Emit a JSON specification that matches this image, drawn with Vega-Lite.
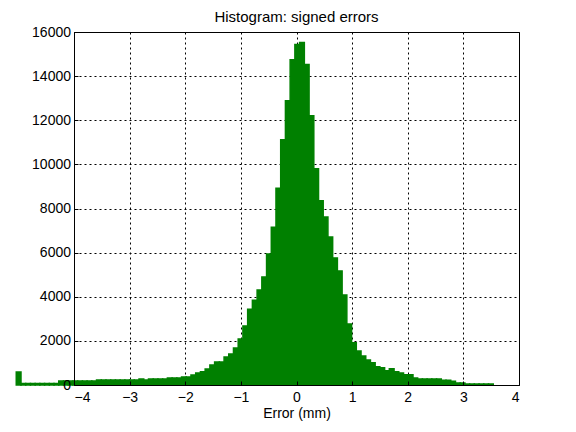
{
  "$schema": "https://vega.github.io/schema/vega-lite/v6.json",
  "width": 445,
  "height": 353,
  "autosize": "none",
  "padding": {"left": 74, "right": 57, "top": 32, "bottom": 47},
  "background": "white",
  "title": {"text": "Histogram: signed errors", "font": "Liberation Sans", "fontSize": 15, "fontWeight": "normal", "color": "black", "offset": 0},
  "config": {
    "view": {"stroke": "black", "strokeWidth": 1},
    "axis": {"labelFont": "Liberation Sans", "titleFont": "Liberation Sans", "labelFontSize": 14, "titleFontSize": 14, "titleFontWeight": "normal", "labelColor": "black", "titleColor": "black", "domainColor": "black", "tickColor": "black", "gridColor": "black", "gridOpacity": 1, "gridDash": [2, 3], "gridWidth": 1}
  },
  "data": {"values": [
    {"lo": -5.038, "hi": -4.953, "n": 590},
    {"lo": -4.953, "hi": -4.868, "n": 70},
    {"lo": -4.868, "hi": -4.783, "n": 70},
    {"lo": -4.783, "hi": -4.698, "n": 70},
    {"lo": -4.698, "hi": -4.614, "n": 70},
    {"lo": -4.614, "hi": -4.529, "n": 70},
    {"lo": -4.529, "hi": -4.444, "n": 70},
    {"lo": -4.444, "hi": -4.359, "n": 70},
    {"lo": -4.359, "hi": -4.274, "n": 70},
    {"lo": -4.274, "hi": -4.189, "n": 180},
    {"lo": -4.189, "hi": -4.104, "n": 180},
    {"lo": -4.104, "hi": -4.019, "n": 180},
    {"lo": -4.019, "hi": -3.934, "n": 180},
    {"lo": -3.934, "hi": -3.849, "n": 180},
    {"lo": -3.849, "hi": -3.765, "n": 180},
    {"lo": -3.765, "hi": -3.680, "n": 180},
    {"lo": -3.680, "hi": -3.595, "n": 180},
    {"lo": -3.595, "hi": -3.510, "n": 227},
    {"lo": -3.510, "hi": -3.425, "n": 227},
    {"lo": -3.425, "hi": -3.340, "n": 227},
    {"lo": -3.340, "hi": -3.255, "n": 227},
    {"lo": -3.255, "hi": -3.170, "n": 227},
    {"lo": -3.170, "hi": -3.085, "n": 227},
    {"lo": -3.085, "hi": -3.000, "n": 227},
    {"lo": -3.000, "hi": -2.916, "n": 227},
    {"lo": -2.916, "hi": -2.831, "n": 227},
    {"lo": -2.831, "hi": -2.746, "n": 270},
    {"lo": -2.746, "hi": -2.661, "n": 227},
    {"lo": -2.661, "hi": -2.576, "n": 270},
    {"lo": -2.576, "hi": -2.491, "n": 270},
    {"lo": -2.491, "hi": -2.406, "n": 270},
    {"lo": -2.406, "hi": -2.321, "n": 270},
    {"lo": -2.321, "hi": -2.236, "n": 318},
    {"lo": -2.236, "hi": -2.151, "n": 318},
    {"lo": -2.151, "hi": -2.067, "n": 318},
    {"lo": -2.067, "hi": -1.982, "n": 363},
    {"lo": -1.982, "hi": -1.897, "n": 363},
    {"lo": -1.897, "hi": -1.812, "n": 454},
    {"lo": -1.812, "hi": -1.727, "n": 544},
    {"lo": -1.727, "hi": -1.642, "n": 603},
    {"lo": -1.642, "hi": -1.557, "n": 726},
    {"lo": -1.557, "hi": -1.472, "n": 907},
    {"lo": -1.472, "hi": -1.387, "n": 1043},
    {"lo": -1.387, "hi": -1.302, "n": 1043},
    {"lo": -1.302, "hi": -1.218, "n": 1270},
    {"lo": -1.218, "hi": -1.133, "n": 1406},
    {"lo": -1.133, "hi": -1.048, "n": 1678},
    {"lo": -1.048, "hi": -0.963, "n": 2087},
    {"lo": -0.963, "hi": -0.878, "n": 2676},
    {"lo": -0.878, "hi": -0.793, "n": 3434},
    {"lo": -0.793, "hi": -0.708, "n": 3842},
    {"lo": -0.708, "hi": -0.623, "n": 4309},
    {"lo": -0.623, "hi": -0.538, "n": 4899},
    {"lo": -0.538, "hi": -0.453, "n": 5942},
    {"lo": -0.453, "hi": -0.369, "n": 7153},
    {"lo": -0.369, "hi": -0.284, "n": 8922},
    {"lo": -0.284, "hi": -0.199, "n": 11113},
    {"lo": -0.199, "hi": -0.114, "n": 12882},
    {"lo": -0.114, "hi": -0.029, "n": 14742},
    {"lo": -0.029, "hi": 0.056, "n": 15436},
    {"lo": 0.056, "hi": 0.141, "n": 15527},
    {"lo": 0.141, "hi": 0.226, "n": 14529},
    {"lo": 0.226, "hi": 0.311, "n": 12202},
    {"lo": 0.311, "hi": 0.396, "n": 9798},
    {"lo": 0.396, "hi": 0.480, "n": 8346},
    {"lo": 0.480, "hi": 0.565, "n": 7620},
    {"lo": 0.565, "hi": 0.650, "n": 6713},
    {"lo": 0.650, "hi": 0.735, "n": 5761},
    {"lo": 0.735, "hi": 0.820, "n": 5171},
    {"lo": 0.820, "hi": 0.905, "n": 4082},
    {"lo": 0.905, "hi": 0.990, "n": 2767},
    {"lo": 0.990, "hi": 1.075, "n": 1919},
    {"lo": 1.075, "hi": 1.160, "n": 1542},
    {"lo": 1.160, "hi": 1.245, "n": 1315},
    {"lo": 1.245, "hi": 1.329, "n": 1134},
    {"lo": 1.329, "hi": 1.414, "n": 1012},
    {"lo": 1.414, "hi": 1.499, "n": 830},
    {"lo": 1.499, "hi": 1.584, "n": 785},
    {"lo": 1.584, "hi": 1.669, "n": 649},
    {"lo": 1.669, "hi": 1.754, "n": 739},
    {"lo": 1.754, "hi": 1.839, "n": 603},
    {"lo": 1.839, "hi": 1.924, "n": 544},
    {"lo": 1.924, "hi": 2.009, "n": 467},
    {"lo": 2.009, "hi": 2.094, "n": 467},
    {"lo": 2.094, "hi": 2.178, "n": 318},
    {"lo": 2.178, "hi": 2.263, "n": 272},
    {"lo": 2.263, "hi": 2.348, "n": 272},
    {"lo": 2.348, "hi": 2.433, "n": 272},
    {"lo": 2.433, "hi": 2.518, "n": 272},
    {"lo": 2.518, "hi": 2.603, "n": 272},
    {"lo": 2.603, "hi": 2.688, "n": 213},
    {"lo": 2.688, "hi": 2.773, "n": 213},
    {"lo": 2.773, "hi": 2.858, "n": 168},
    {"lo": 2.858, "hi": 2.943, "n": 91},
    {"lo": 2.943, "hi": 3.027, "n": 91},
    {"lo": 3.027, "hi": 3.112, "n": 45},
    {"lo": 3.112, "hi": 3.197, "n": 45},
    {"lo": 3.197, "hi": 3.282, "n": 45},
    {"lo": 3.282, "hi": 3.367, "n": 45},
    {"lo": 3.367, "hi": 3.452, "n": 45},
    {"lo": 3.452, "hi": 3.537, "n": 45}
  ]},
  "resolve": {"axis": {"x": "independent", "y": "independent"}},
  "layer": [
    {
      "mark": {"type": "rect", "fill": "#008000", "stroke": "#008000", "strokeWidth": 1.5, "strokeJoin": "miter", "opacity": 1, "fillOpacity": 1, "strokeOpacity": 1, "clip": false},
      "encoding": {
        "x": {"field": "lo", "type": "quantitative", "scale": {"domain": [-4, 4], "nice": false, "zero": false},
              "axis": {"orient": "bottom", "values": [-4, -3, -2, -1, 0, 1, 2, 3, 4], "grid": true, "domain": false, "ticks": false, "labels": false, "title": null, "zindex": 0, "maxExtent": 0, "minExtent": 0}},
        "x2": {"field": "hi"},
        "y": {"field": "n", "type": "quantitative", "scale": {"domain": [0, 16000], "nice": false},
              "axis": {"orient": "left", "values": [0, 2000, 4000, 6000, 8000, 10000, 12000, 14000, 16000], "grid": true, "domain": false, "ticks": false, "labels": false, "title": null, "zindex": 0, "maxExtent": 0, "minExtent": 0}},
        "y2": {"datum": 0}
      }
    },
    {
      "mark": {"type": "rect", "opacity": 0},
      "encoding": {
        "x": {"field": "lo", "type": "quantitative",
              "axis": {"orient": "bottom", "values": [-4, -3, -2, -1, 0, 1, 2, 3, 4], "grid": false, "domain": true, "ticks": true, "tickSize": -4, "labelPadding": 9, "title": "Error (mm)", "titlePadding": 2, "zindex": 2}},
        "x2": {"field": "hi"},
        "y": {"field": "n", "type": "quantitative",
              "axis": {"orient": "left", "values": [0, 2000, 4000, 6000, 8000, 10000, 12000, 14000, 16000], "format": "d", "grid": false, "domain": true, "ticks": true, "tickSize": -4, "labelPadding": 7.5, "title": null, "zindex": 2}},
        "y2": {"datum": 0}
      }
    }
  ]
}
